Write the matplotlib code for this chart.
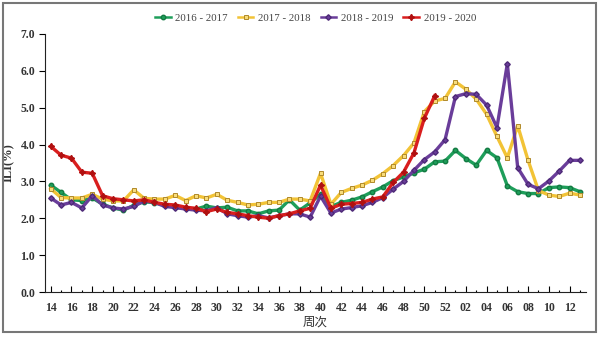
import matplotlib
matplotlib.use("Agg")
import matplotlib.pyplot as plt
from matplotlib.patches import Rectangle
from matplotlib.ticker import FixedLocator, FixedFormatter

weeks = [str(w) for w in range(14, 53)] + ["%02d" % w for w in range(1, 14)]

s1617 = [2.90, 2.70, 2.50, 2.48, 2.55, 2.38, 2.28, 2.22, 2.35, 2.45,
         2.42, 2.35, 2.30, 2.27, 2.25, 2.33, 2.28, 2.30, 2.20, 2.20,
         2.12, 2.20, 2.22, 2.50, 2.22, 2.42, 2.65, 2.32, 2.43, 2.49,
         2.58, 2.72, 2.85, 3.02, 3.12, 3.23, 3.33, 3.53, 3.55, 3.84,
         3.62, 3.44, 3.84, 3.64, 2.88, 2.72, 2.67, 2.67, 2.83, 2.85,
         2.83, 2.72]
s1718 = [2.80, 2.56, 2.55, 2.55, 2.65, 2.52, 2.47, 2.47, 2.77, 2.54,
         2.52, 2.52, 2.62, 2.48, 2.61, 2.55, 2.65, 2.49, 2.43, 2.36,
         2.38, 2.43, 2.43, 2.52, 2.52, 2.47, 3.22, 2.38, 2.70, 2.81,
         2.90, 3.03, 3.21, 3.43, 3.70, 4.04, 4.89, 5.18, 5.25, 5.70,
         5.50, 5.23, 4.82, 4.22, 3.64, 4.51, 3.57, 2.75, 2.63, 2.59,
         2.68, 2.63]
s1819 = [2.55, 2.36, 2.43, 2.28, 2.61, 2.36, 2.28, 2.25, 2.32, 2.47,
         2.43, 2.32, 2.29, 2.25, 2.22, 2.20, 2.29, 2.12, 2.07, 2.03,
         2.07, 2.01, 2.07, 2.12, 2.12, 2.03, 2.60, 2.14, 2.25, 2.29,
         2.34, 2.43, 2.56, 2.79, 3.00, 3.30, 3.59, 3.80, 4.13, 5.30,
         5.38, 5.36, 5.07, 4.46, 6.19, 3.37, 2.92, 2.80, 3.01, 3.28,
         3.57, 3.57]
s1920 = [3.95, 3.71, 3.63, 3.25, 3.22, 2.61, 2.53, 2.50, 2.47, 2.50,
         2.43, 2.38, 2.36, 2.30, 2.27, 2.18, 2.25, 2.16, 2.12, 2.07,
         2.03, 2.00, 2.07, 2.12, 2.20, 2.27, 2.90, 2.27, 2.38, 2.40,
         2.43, 2.52, 2.58, 2.97, 3.25, 3.77, 4.71, 5.32]

labels = ["2016 - 2017", "2017 - 2018", "2018 - 2019", "2019 - 2020"]
yticks = [0, 1, 2, 3, 4, 5, 6, 7]

serif = ["Liberation Serif", "DejaVu Serif"]
cjk = ["Noto Sans CJK SC", "DejaVu Sans"]

fig = plt.figure(figsize=(6.0, 3.37), dpi=100)
fig.patch.set_facecolor("white")
ax = fig.add_axes([0.075, 0.1335, 0.902, 0.766])

x = list(range(len(weeks)))
styles = [
    dict(color="#1E9E5A", marker="o", mfc="#1E9E5A", mec="#137A42", ms=3.2),
    dict(color="#F2C336", marker="s", mfc="#F8DC7A", mec="#B0892A", ms=3.2, mew=0.7),
    dict(color="#6A3D9A", marker="D", mfc="#6A3D9A", mec="#4E2A78", ms=2.8),
    dict(color="#D91E1E", marker=(4, 1, 0), mfc="#B01010", mec="#B01010", ms=4.5),
]
series = [s1617, s1718, s1819, s1920]
for s, lab, st in zip(series, labels, styles):
    ax.plot(x[:len(s)], s, lw=2.4, label=lab, **st)

ax.set_ylim(0, 7)
ax.set_xlim(-0.55, 51.6)
ax.spines["top"].set_visible(False)
ax.spines["right"].set_visible(False)
ax.spines["left"].set_color("#222222")
ax.spines["bottom"].set_color("#222222")

ax.set_yticks(yticks)
ax.set_yticklabels(["%.1f" % v for v in yticks], fontfamily=serif,
                   fontweight="bold", fontsize=8.5, color="#333333")
ax.tick_params(axis="y", direction="out", length=4, width=0.8, pad=3)

major = x[::2]
minor = x[1::2]
ax.xaxis.set_major_locator(FixedLocator(major))
ax.xaxis.set_major_formatter(FixedFormatter([weeks[i] for i in major]))
ax.xaxis.set_minor_locator(FixedLocator(minor))
for t in ax.get_xticklabels():
    t.set_fontfamily(serif)
    t.set_fontweight("bold")
    t.set_fontsize(8.5)
    t.set_color("#333333")
ax.tick_params(axis="x", which="major", direction="in", length=4, width=0.8, pad=7)
ax.tick_params(axis="x", which="minor", direction="in", length=1.5, width=0.8)

ax.set_ylabel("ILI(%)", fontfamily=serif, fontweight="bold", fontsize=9,
              color="#333333", labelpad=4)
ax.set_xlabel("周次", fontfamily=cjk, fontsize=9, color="#333333", labelpad=1)

leg = ax.legend(loc="center", bbox_to_anchor=(0.5, 1.06), ncol=4,
                frameon=False, prop={"family": serif, "size": 7.8},
                handlelength=1.45, columnspacing=0.9, handletextpad=0.45)
for t in leg.get_texts():
    t.set_color("#444444")
for h in leg.get_lines():
    h.set_linewidth(1.8)

fig.patches.append(Rectangle((3 / 600, 1 - 332 / 337), 593 / 600, 329 / 337,
                             transform=fig.transFigure, fill=False,
                             edgecolor="#777777", lw=1.5))

fig.savefig("out.png", dpi=100, facecolor="white")
